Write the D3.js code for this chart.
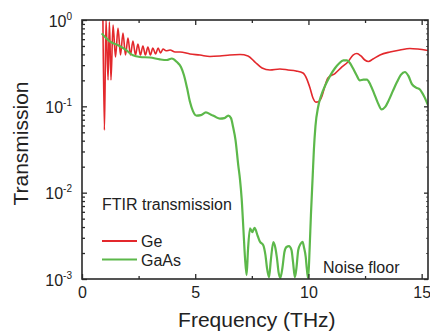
<!DOCTYPE html>
<html>
<head>
<meta charset="utf-8">
<script src="https://cdn.jsdelivr.net/npm/d3@7"></script>
<style>
  html, body { margin: 0; padding: 0; background: #fff; }
  svg { display: block; font-family: "Liberation Sans", Arial, Helvetica, sans-serif; }
</style>
</head>
<body>
<svg id="chart" width="430" height="333"></svg>
<script>
// Ge transmission spectrum (frequency in THz, transmission)
const geFreq = [0.92, 0.99, 1.06, 1.15, 1.21, 1.28, 1.37, 1.48, 1.59, 1.70, 1.81, 1.92, 2.03, 2.14,
  2.25, 2.36, 2.47, 2.58, 2.69, 2.80, 2.91, 3.02, 3.13, 3.25, 3.36, 3.47, 3.58, 3.71, 3.89, 4.11,
  4.33, 4.77, 5.21, 5.65, 6.09, 6.53, 6.98, 7.33, 7.64, 7.95, 8.30, 8.74, 9.10, 9.45, 9.76, 9.93,
  10.07, 10.20, 10.33, 10.46, 10.60, 10.73, 10.86, 11.17, 11.48, 11.74, 11.97, 12.14, 12.32, 12.49,
  12.65, 12.85, 13.16, 13.60, 14.04, 14.48, 14.83, 15.28];
const geT = [1.3, 0.053, 1.02, 0.202, 0.95, 0.202, 0.875, 0.373, 0.808, 0.393, 0.707, 0.393, 0.619, 0.393,
  0.571, 0.393, 0.527, 0.393, 0.50, 0.393, 0.487, 0.393, 0.474, 0.404, 0.474, 0.415, 0.461, 0.44, 0.449, 0.426,
  0.426, 0.404, 0.393, 0.378, 0.383, 0.393, 0.398, 0.383, 0.326, 0.278, 0.264, 0.271, 0.264, 0.257, 0.243, 0.207,
  0.163, 0.125, 0.112, 0.114, 0.132, 0.172, 0.213, 0.240, 0.286, 0.326, 0.393, 0.409, 0.383, 0.344,
  0.331, 0.353, 0.393, 0.426, 0.449, 0.468, 0.461, 0.443];

// GaAs transmission spectrum
const gaasFreq = [0.87, 1.06, 1.24, 1.60, 1.94, 2.25, 2.56, 3.00, 3.44, 3.74, 3.97, 4.19, 4.37, 4.50,
  4.64, 4.77, 4.90, 5.06, 5.25, 5.47, 5.70, 5.87, 6.09, 6.29, 6.46, 6.58, 6.67, 6.78, 6.90, 6.98,
  7.05, 7.13, 7.20, 7.27, 7.33, 7.42, 7.52, 7.62, 7.76, 7.86, 8.00, 8.10, 8.17, 8.26, 8.34, 8.45,
  8.54, 8.61, 8.68, 8.76, 8.85, 8.94, 9.03, 9.14, 9.25, 9.32, 9.40, 9.47, 9.55, 9.65, 9.74, 9.80,
  9.88, 9.93, 9.99, 10.05, 10.11, 10.19, 10.24, 10.31, 10.43, 10.57, 10.73, 10.95, 11.17, 11.35,
  11.54, 11.70, 11.83, 11.96, 12.12, 12.27, 12.43, 12.58, 12.74, 12.89, 13.07, 13.23, 13.38, 13.55,
  13.73, 13.91, 14.08, 14.26, 14.42, 14.57, 14.75, 14.92, 15.10, 15.29];
const gaasT = [0.70, 0.62, 0.56, 0.51, 0.45, 0.39, 0.373, 0.368, 0.35, 0.344, 0.358, 0.326, 0.286, 0.231,
  0.163, 0.112, 0.088, 0.078, 0.079, 0.085, 0.080, 0.076, 0.072, 0.073, 0.078, 0.073, 0.058, 0.0407, 0.0209, 0.014,
  0.0086, 0.0037, 0.00174, 0.00111, 0.00217, 0.00386, 0.0035, 0.0039, 0.00315, 0.0027, 0.00248, 0.0019, 0.00134, 0.00105, 0.00166, 0.00268,
  0.00229, 0.00175, 0.0012, 0.00103, 0.00134, 0.00206, 0.00235, 0.0024, 0.00217, 0.00157, 0.00105, 0.00134, 0.00217, 0.00254, 0.0027, 0.00235,
  0.0018, 0.0013, 0.00102, 0.00217, 0.0055, 0.016, 0.0312, 0.059, 0.099, 0.135, 0.172, 0.224, 0.276, 0.313,
  0.34, 0.34, 0.318, 0.278, 0.231, 0.2, 0.204, 0.204, 0.177, 0.143, 0.109, 0.092, 0.098, 0.118,
  0.151, 0.191, 0.231, 0.25, 0.224, 0.181, 0.165, 0.157, 0.132, 0.102];

// Axis ticks
const xMajorTicks = [0, 5, 10, 15];
const xMinorTicks = [2.5, 7.5, 12.5];
const yMajorTicks = [1e-3, 1e-2, 1e-1, 1];
const yExponents = ["-3", "-2", "-1", "0"];
const yMinorTicks = [];
[1e-3, 1e-2, 1e-1].forEach(d => { for (let k = 2; k <= 9; k++) yMinorTicks.push(d * k); });

const seriesNames = ["Ge", "GaAs"];
const seriesColors = ["#e3282c", "#5cb84a"];

const svg = d3.select("#chart");
const plotLeft = 82, plotRight = 428, plotTop = 20, plotBottom = 279;
const x = d3.scaleLinear().domain([0, 15.28]).range([plotLeft, plotRight]);
const y = d3.scaleLog().domain([1e-3, 1]).range([plotBottom, plotTop]);

svg.append("defs").append("clipPath").attr("id", "plotClip")
  .append("rect").attr("x", plotLeft).attr("y", plotTop)
  .attr("width", plotRight - plotLeft).attr("height", plotBottom - plotTop);

const line = d3.line()
  .x(d => x(d[0]))
  .y(d => y(d[1]))
  .curve(d3.curveMonotoneX);

const plot = svg.append("g").attr("clip-path", "url(#plotClip)");
plot.append("path")
  .datum(d3.zip(geFreq, geT))
  .attr("fill", "none").attr("stroke", seriesColors[0]).attr("stroke-width", 1.6)
  .attr("stroke-linejoin", "round").attr("d", line);
plot.append("path")
  .datum(d3.zip(gaasFreq, gaasT))
  .attr("fill", "none").attr("stroke", seriesColors[1]).attr("stroke-width", 2.2)
  .attr("stroke-linejoin", "round").attr("d", line);

// Axes with inward ticks
const axisColor = "#2a2a2a";
function styleAxis(g) {
  g.select(".domain").remove();
  g.selectAll(".tick line").attr("stroke", axisColor).attr("stroke-width", 1.3);
}
svg.append("g").attr("transform", `translate(0,${plotBottom})`)
  .call(d3.axisBottom(x).tickValues(xMajorTicks).tickSize(-5).tickPadding(8).tickFormat(d3.format("d")))
  .call(styleAxis)
  .call(g => g.selectAll(".tick text").attr("font-size", 16).attr("fill", "#222")
    .attr("font-family", "Liberation Sans, Arial, sans-serif"));
svg.append("g").attr("transform", `translate(0,${plotBottom})`)
  .call(d3.axisBottom(x).tickValues(xMinorTicks).tickSize(-3).tickFormat(""))
  .call(styleAxis);
svg.append("g").attr("transform", `translate(0,${plotTop})`)
  .call(d3.axisTop(x).tickValues(xMajorTicks).tickSize(-5).tickFormat(""))
  .call(styleAxis);
svg.append("g").attr("transform", `translate(0,${plotTop})`)
  .call(d3.axisTop(x).tickValues(xMinorTicks).tickSize(-3).tickFormat(""))
  .call(styleAxis);

const yLeft = svg.append("g").attr("transform", `translate(${plotLeft},0)`)
  .call(d3.axisLeft(y).tickValues(yMajorTicks).tickSize(-5).tickFormat(""))
  .call(styleAxis);
svg.append("g").attr("transform", `translate(${plotLeft},0)`)
  .call(d3.axisLeft(y).tickValues(yMinorTicks).tickSize(-3).tickFormat(""))
  .call(styleAxis);
svg.append("g").attr("transform", `translate(${plotRight},0)`)
  .call(d3.axisRight(y).tickValues(yMajorTicks).tickSize(-4).tickFormat(""))
  .call(styleAxis);
svg.append("g").attr("transform", `translate(${plotRight},0)`)
  .call(d3.axisRight(y).tickValues(yMinorTicks).tickSize(-2).tickFormat(""))
  .call(styleAxis)
  .call(g => g.selectAll(".tick line").attr("stroke-width", 1).attr("stroke", "#666"));

// Power-of-ten labels on the left axis
yLeft.selectAll(".tick").each(function(d) {
  const t = d3.select(this).append("text")
    .attr("x", -10).attr("y", 6)
    .attr("text-anchor", "end").attr("fill", "#222")
    .attr("font-size", 16).attr("font-family", "Liberation Sans, Arial, sans-serif");
  t.append("tspan").text("10");
  t.append("tspan").attr("font-size", 10).attr("dy", -7).text(yExponents[yMajorTicks.indexOf(d)]);
});

// Frame
svg.append("rect").attr("x", plotLeft).attr("y", plotTop)
  .attr("width", plotRight - plotLeft).attr("height", plotBottom - plotTop)
  .attr("fill", "none").attr("stroke", axisColor).attr("stroke-width", 1.6);

// Axis titles
svg.append("text").attr("x", (plotLeft + x(15)) / 2 + 5).attr("y", 327)
  .attr("text-anchor", "middle").attr("font-size", 21).attr("fill", "#222").text("Frequency (THz)");
svg.append("text").attr("transform", `translate(28,${(plotTop + plotBottom) / 2 - 6}) rotate(-90)`)
  .attr("text-anchor", "middle").attr("font-size", 21).attr("fill", "#222").text("Transmission");

// Annotations
svg.append("text").attr("x", 102).attr("y", 210).attr("font-size", 16).attr("fill", "#222")
  .text("FTIR transmission");
svg.append("text").attr("x", 323).attr("y", 273).attr("font-size", 16).attr("fill", "#222")
  .text("Noise floor");

// Legend
const legend = svg.append("g");
seriesNames.forEach((name, i) => {
  const ly = 241 + i * 18.5;
  legend.append("line").attr("x1", 102).attr("x2", 137).attr("y1", ly).attr("y2", ly)
    .attr("stroke", seriesColors[i]).attr("stroke-width", 2);
  legend.append("text").attr("x", 141).attr("y", ly + 6).attr("font-size", 16).attr("fill", "#222")
    .text(name);
});
</script>
</body>
</html>
